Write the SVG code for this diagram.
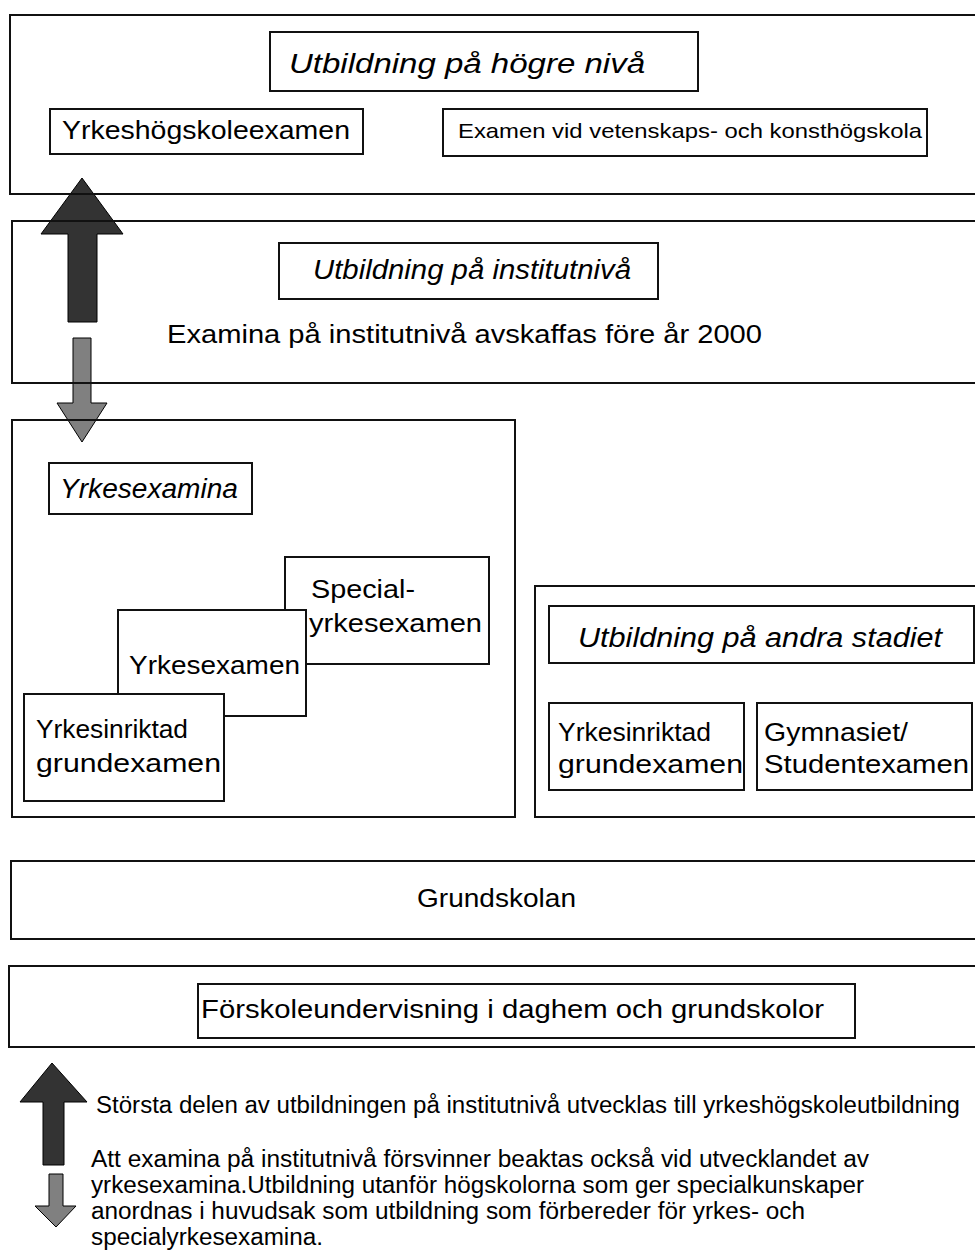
<svg xmlns="http://www.w3.org/2000/svg" width="975" height="1254" viewBox="0 0 975 1254">
<defs>
<style>
.box{fill:none;stroke:#111;stroke-width:2}
.wbox{fill:#fff;stroke:#111;stroke-width:2}
.t{font-family:"Liberation Sans",Arial,sans-serif;font-size:26px;fill:#000}
.i{font-style:italic;font-size:27px}
.s{font-size:21px}
.p{font-size:23px}
.dark{fill:#333;stroke:#000;stroke-width:1}
.grey{fill:#808080;stroke:#000;stroke-width:1}
</style>
</defs>
<rect width="975" height="1254" fill="#fff"/>
<g id="connectors">
<polygon class="dark" points="68,322 68,234 41,234 82,178 123,234 97,234 97,322"/>
<polygon class="grey" points="73,338 91,338 91,403 107,403 82,442 57,403 73,403"/>
</g>
<g id="hogre">
<rect class="box" x="10" y="15" width="975" height="179"/>
<rect class="box" x="270" y="32" width="428" height="59"/>
<text class="t i" x="289" y="73" textLength="356" lengthAdjust="spacingAndGlyphs">Utbildning på högre nivå</text>
</g>
<g id="yrkeshogskoleexamen">
<rect class="box" x="50" y="109" width="313" height="45"/>
<text class="t" x="62" y="139" textLength="288" lengthAdjust="spacingAndGlyphs">Yrkeshögskoleexamen</text>
</g>
<g id="vetenskap">
<rect class="box" x="443" y="109" width="484" height="47"/>
<text class="t s" x="458" y="138" textLength="464" lengthAdjust="spacingAndGlyphs">Examen vid vetenskaps- och konsthögskola</text>
</g>
<g id="institut">
<rect class="box" x="12" y="221" width="975" height="162"/>
<rect class="box" x="279" y="243" width="379" height="56"/>
<text class="t i" x="313" y="279" textLength="318" lengthAdjust="spacingAndGlyphs">Utbildning på institutnivå</text>
<text class="t" x="167" y="343" textLength="595" lengthAdjust="spacingAndGlyphs">Examina på institutnivå avskaffas före år 2000</text>
</g>
<g id="yrkesexamina">
<rect class="box" x="12" y="420" width="503" height="397"/>
<rect class="box" x="49" y="463" width="203" height="51"/>
<text class="t i" x="60" y="498" textLength="178" lengthAdjust="spacingAndGlyphs">Yrkesexamina</text>
</g>
<g id="specialyrkesexamen">
<rect class="wbox" x="285" y="557" width="204" height="107"/>
<text class="t" x="311" y="598" textLength="104" lengthAdjust="spacingAndGlyphs">Special-</text>
<text class="t" x="309" y="632" textLength="173" lengthAdjust="spacingAndGlyphs">yrkesexamen</text>
</g>
<g id="yrkesexamen">
<rect class="wbox" x="118" y="610" width="188" height="106"/>
<text class="t" x="129" y="674" textLength="171" lengthAdjust="spacingAndGlyphs">Yrkesexamen</text>
</g>
<g id="grundexamen1">
<rect class="wbox" x="24" y="694" width="200" height="107"/>
<text class="t" x="36" y="738" textLength="152" lengthAdjust="spacingAndGlyphs">Yrkesinriktad</text>
<text class="t" x="36" y="772" textLength="185" lengthAdjust="spacingAndGlyphs">grundexamen</text>
</g>
<g id="andra">
<rect class="box" x="535" y="586" width="450" height="231"/>
<rect class="box" x="549" y="606" width="425" height="57"/>
<text class="t i" x="578" y="647" textLength="364" lengthAdjust="spacingAndGlyphs">Utbildning på andra stadiet</text>
</g>
<g id="grundexamen2">
<rect class="box" x="549" y="703" width="195" height="87"/>
<text class="t" x="558" y="741" textLength="153" lengthAdjust="spacingAndGlyphs">Yrkesinriktad</text>
<text class="t" x="558" y="773" textLength="185" lengthAdjust="spacingAndGlyphs">grundexamen</text>
</g>
<g id="gymnasiet">
<rect class="box" x="757" y="703" width="215" height="87"/>
<text class="t" x="764" y="741" textLength="144" lengthAdjust="spacingAndGlyphs">Gymnasiet/</text>
<text class="t" x="764" y="773" textLength="205" lengthAdjust="spacingAndGlyphs">Studentexamen</text>
</g>
<g id="grundskolan">
<rect class="box" x="11" y="861" width="975" height="78"/>
<text class="t" x="417" y="907" textLength="159" lengthAdjust="spacingAndGlyphs">Grundskolan</text>
</g>
<g id="forskole">
<rect class="box" x="9" y="966" width="975" height="81"/>
<rect class="box" x="198" y="984" width="657" height="54"/>
<text class="t" x="201" y="1018" textLength="623" lengthAdjust="spacingAndGlyphs">Förskoleundervisning i daghem och grundskolor</text>
</g>
<g id="legend">
<polygon class="dark" points="43,1165 43,1102 20,1102 52,1063 87,1102 64,1102 64,1165"/>
<polygon class="grey" points="49,1174 63,1174 63,1206 76,1206 56,1227 35,1206 49,1206"/>
<text class="t p" x="96" y="1113" textLength="864" lengthAdjust="spacingAndGlyphs">Största delen av utbildningen på institutnivå utvecklas till yrkeshögskoleutbildning</text>
<text class="t p" x="91" y="1167" textLength="778" lengthAdjust="spacingAndGlyphs">Att examina på institutnivå försvinner beaktas också vid utvecklandet av</text>
<text class="t p" x="91" y="1193" textLength="773" lengthAdjust="spacingAndGlyphs">yrkesexamina.Utbildning utanför högskolorna som ger specialkunskaper</text>
<text class="t p" x="91" y="1219" textLength="714" lengthAdjust="spacingAndGlyphs">anordnas i huvudsak som utbildning som förbereder för yrkes- och</text>
<text class="t p" x="91" y="1245" textLength="232" lengthAdjust="spacingAndGlyphs">specialyrkesexamina.</text>
</g>
</svg>
